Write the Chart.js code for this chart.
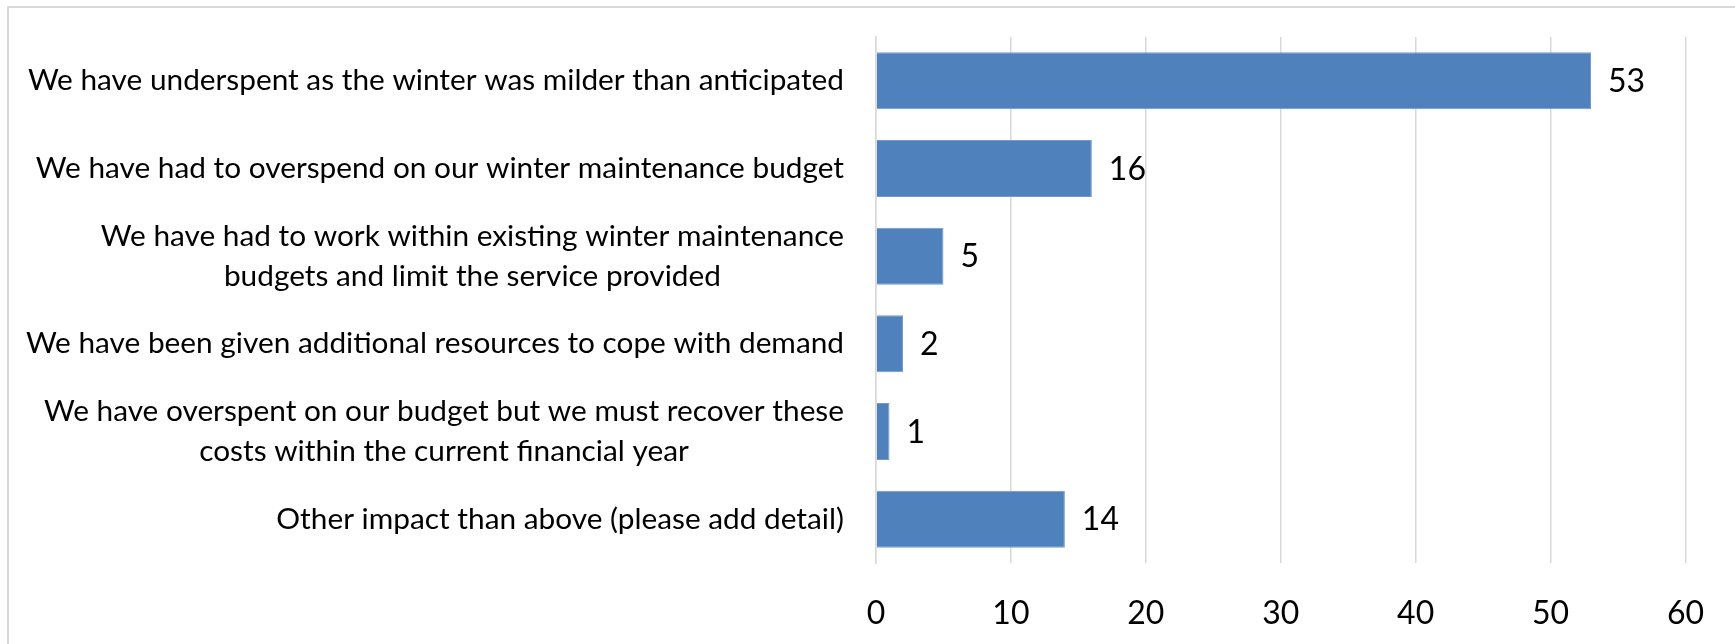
<!DOCTYPE html>
<html>
<head>
<meta charset="utf-8">
<script src="https://cdn.jsdelivr.net/npm/chart.js@4"></script>
<style>
  html, body { margin: 0; padding: 0; background: #fff; overflow: hidden; }
  #frame { position: absolute; left: 7px; top: 6px; width: 3000px; height: 3000px;
           border-left: 2px solid #d9d9d9; border-top: 2px solid #d9d9d9; }
  #c { position: absolute; left: 0; top: 0; }
</style>
</head>
<body>
<div id="frame"></div>
<canvas id="c" width="1735" height="644"></canvas>
<script>
const categories = [
  'We have underspent as the winter was milder than anticipated',
  'We have had to overspend on our winter maintenance budget',
  ['We have had to work within existing winter maintenance', 'budgets and limit the service provided'],
  'We have been given additional resources to cope with demand',
  ['We have overspent on our budget but we must recover these', 'costs within the current financial year'],
  'Other impact than above (please add detail)'
];
const responses = [53, 16, 5, 2, 1, 14];
const xTickValues = [0, 10, 20, 30, 40, 50, 60];

const FONT = 'Lato, "Open Sans", sans-serif';
const CAT_SIZE = 29.8;
const NUM_SIZE = 32;

const categoryLabelPlugin = {
  id: 'categoryLabels',
  afterDraw(chart) {
    const ctx = chart.ctx;
    const yScale = chart.scales.y;
    const left = chart.chartArea.left;
    ctx.save();
    ctx.font = CAT_SIZE + 'px ' + FONT;
    ctx.fillStyle = '#000';
    ctx.textBaseline = 'middle';
    ctx.textAlign = 'center';
    const lineH = 40;
    chart.data.labels.forEach((lab, i) => {
      const lines = Array.isArray(lab) ? lab : [lab];
      const w = Math.max(...lines.map(l => ctx.measureText(l).width));
      const cx = left - 32 - w / 2;
      const cy = yScale.getPixelForValue(i);
      lines.forEach((l, k) => {
        ctx.fillText(l, cx, cy + (k - (lines.length - 1) / 2) * lineH);
      });
    });
    ctx.restore();
  }
};

const valueLabelPlugin = {
  id: 'valueLabels',
  afterDatasetsDraw(chart) {
    const ctx = chart.ctx;
    ctx.save();
    ctx.font = NUM_SIZE + 'px ' + FONT;
    ctx.fillStyle = '#000';
    ctx.textBaseline = 'middle';
    ctx.textAlign = 'left';
    chart.data.datasets.forEach((ds, di) => {
      chart.getDatasetMeta(di).data.forEach((bar, i) => {
        ctx.fillText(String(ds.data[i]), bar.x + 17, bar.y + 1);
      });
    });
    ctx.restore();
  }
};

new Chart(document.getElementById('c'), {
  type: 'bar',
  data: {
    labels: categories,
    datasets: [{
      data: responses,
      backgroundColor: '#4f81bd',
      borderColor: '#729bcf',
      borderWidth: 1,
      categoryPercentage: 1,
      barPercentage: 0.65
    }]
  },
  options: {
    indexAxis: 'y',
    responsive: false,
    animation: false,
    layout: { padding: { left: 0, right: 47, top: 37, bottom: 0 } },
    plugins: { legend: { display: false }, tooltip: { enabled: false } },
    scales: {
      x: {
        min: xTickValues[0],
        max: xTickValues[xTickValues.length - 1],
        afterBuildTicks: s => { s.ticks = xTickValues.map(v => ({ value: v })); },
        grid: { color: '#d9d9d9', lineWidth: 1.5, drawTicks: false },
        border: { display: false },
        ticks: { color: '#000', font: { family: FONT, size: NUM_SIZE }, padding: 31 },
        afterFit: s => { s.height = 81; }
      },
      y: {
        grid: { display: false, drawTicks: false },
        border: { display: true, color: '#d9d9d9', width: 1.5 },
        ticks: { display: false },
        afterFit: s => { s.width = 876; }
      }
    }
  },
  plugins: [categoryLabelPlugin, valueLabelPlugin]
});
</script>
</body>
</html>
